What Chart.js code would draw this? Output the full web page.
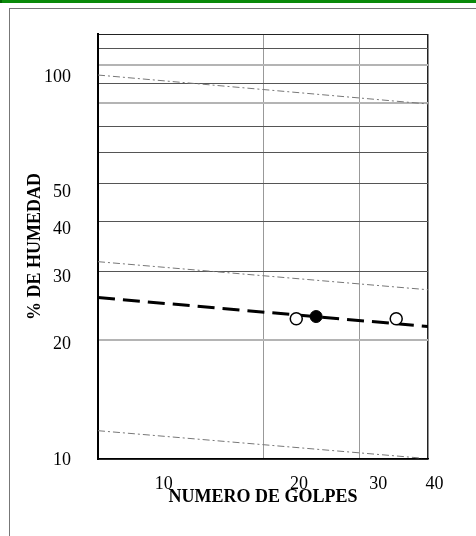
<!DOCTYPE html>
<html>
<head>
<meta charset="utf-8">
<script src="https://cdn.jsdelivr.net/npm/chart.js"></script>
<style>
  body { margin: 0; background: #fff; }
  #verde { position: absolute; left: 0; top: 0; width: 474px; height: 3px; background: #0a8a0a; border-left: 2px solid #006400; }
  #marco { position: absolute; left: 9px; top: 8px; width: 520px; height: 560px; border-left: 1px solid #777; border-top: 1px solid #777; }
  #grafico { position: absolute; left: 0; top: 0; }
</style>
</head>
<body>
<div id="verde"></div>
<div id="marco"></div>
<canvas id="grafico" width="476" height="536"></canvas>
<script>
// ensayos de limite liquido
var golpesEnsayo = [23, 35]
var humedadEnsayo = [22.7, 22.7]
var golpesLL = [25]
var humedadLL = [23.0]

// curva de fluidez
var golpesRecta = [10, 40]
var humedadRecta = [25.7, 21.7]

// lineas guia
var golpesGuia = [10, 40]
var humedadGuiaSup = [94.4, 79.7]
var humedadGuiaMed = [31.7, 26.9]
var golpesGuiaInf = [10, 39]
var humedadGuiaInf = [11.8, 10.05]

// reticula y etiquetas
var golpesGrid = [10, 20, 30, 40]
var golpesLabels = [10, 20, 30, 40]
var humedadGrid = [10, 20, 30, 40, 50, 60, 70, 80, 90, 100, 110, 120]
var humedadLabels = [10, 20, 30, 40, 50, 100]

function pares(xs, ys) {
  return xs.map(function (x, i) { return {x: x, y: ys[i]} })
}

var serif = 'Liberation Serif'
var lineasClaras = [20, 80, 100]

new Chart(document.getElementById('grafico'), {
  type: 'scatter',
  data: {
    datasets: [
      {
        data: pares(golpesLL, humedadLL),
        pointRadius: 6,
        backgroundColor: '#000',
        borderColor: '#000',
        borderWidth: 1,
        order: 0
      },
      {
        data: pares(golpesEnsayo, humedadEnsayo),
        pointRadius: 6,
        backgroundColor: '#fff',
        borderColor: '#000',
        borderWidth: 1.5,
        order: 1
      },
      {
        data: pares(golpesRecta, humedadRecta),
        showLine: true,
        pointRadius: 0,
        borderColor: '#000',
        borderWidth: 3,
        borderDash: [17, 8],
        order: 2
      },
      {
        data: pares(golpesGuia, humedadGuiaSup),
        showLine: true,
        pointRadius: 0,
        borderColor: '#777',
        borderWidth: 1,
        borderDash: [7, 3, 2, 3],
        order: 3
      },
      {
        data: pares(golpesGuia, humedadGuiaMed),
        showLine: true,
        pointRadius: 0,
        borderColor: '#777',
        borderWidth: 1,
        borderDash: [7, 3, 2, 3],
        order: 3
      },
      {
        data: pares(golpesGuiaInf, humedadGuiaInf),
        showLine: true,
        pointRadius: 0,
        borderColor: '#777',
        borderWidth: 1,
        borderDash: [7, 3, 2, 3],
        order: 3
      }
    ]
  },
  options: {
    responsive: false,
    animation: false,
    layout: { padding: { left: 18, top: 34, right: 48, bottom: 20 } },
    plugins: {
      legend: { display: false },
      tooltip: { enabled: false }
    },
    scales: {
      x: {
        type: 'logarithmic',
        position: 'bottom',
        weight: 0,
        min: 10,
        max: 40,
        afterBuildTicks: function (s) { s.ticks = golpesGrid.map(function (v) { return {value: v} }) },
        ticks: { display: false },
        grid: {
          drawTicks: false,
          color: function (c) { return c.tick && c.tick.value == 40 ? '#222' : '#999' },
          lineWidth: function (c) { return c.tick && c.tick.value == 40 ? 1.5 : 1 }
        },
        border: { display: true, color: '#000', width: 1.5 }
      },
      x2: {
        type: 'logarithmic',
        position: 'bottom',
        weight: 1,
        min: 7.14,
        max: 38.7,
        afterBuildTicks: function (s) { s.ticks = golpesLabels.map(function (v) { return {value: v} }) },
        afterFit: function (s) { s.height = 57 },
        grid: { display: false },
        border: { display: false },
        ticks: {
          autoSkip: false,
          maxRotation: 0,
          padding: 6,
          color: '#000',
          font: { family: serif, size: 18 },
          callback: function (v) { return String(v) }
        },
        title: {
          display: true,
          text: 'NUMERO DE GOLPES',
          color: '#000',
          font: { family: serif, size: 18, weight: 'bold' },
          padding: { top: 0, bottom: 8 }
        }
      },
      y: {
        type: 'logarithmic',
        position: 'left',
        weight: 0,
        min: 10,
        max: 120,
        afterBuildTicks: function (s) { s.ticks = humedadGrid.map(function (v) { return {value: v} }) },
        ticks: { display: false },
        grid: {
          drawTicks: false,
          color: function (c) {
            if (!c.tick) return '#555'
            if (c.tick.value == 120) return '#222'
            return lineasClaras.indexOf(c.tick.value) >= 0 ? '#b4b4b4' : '#555'
          },
          lineWidth: function (c) {
            if (!c.tick) return 1
            return lineasClaras.indexOf(c.tick.value) >= 0 ? 2 : 1
          }
        },
        border: { display: true, color: '#000', width: 2 }
      },
      y2: {
        type: 'logarithmic',
        position: 'left',
        weight: 1,
        min: 10.06,
        max: 129.5,
        afterBuildTicks: function (s) { s.ticks = humedadLabels.map(function (v) { return {value: v} }) },
        afterFit: function (s) { s.width = 80 },
        grid: { display: false },
        border: { display: false },
        ticks: {
          autoSkip: false,
          padding: 19,
          color: '#000',
          font: { family: serif, size: 18 },
          callback: function (v) { return String(v) }
        },
        title: {
          display: true,
          text: '% DE HUMEDAD',
          color: '#000',
          font: { family: serif, size: 18, weight: 'bold' },
          padding: { top: 7, bottom: 0 }
        }
      }
    }
  }
})
</script>
</body>
</html>
